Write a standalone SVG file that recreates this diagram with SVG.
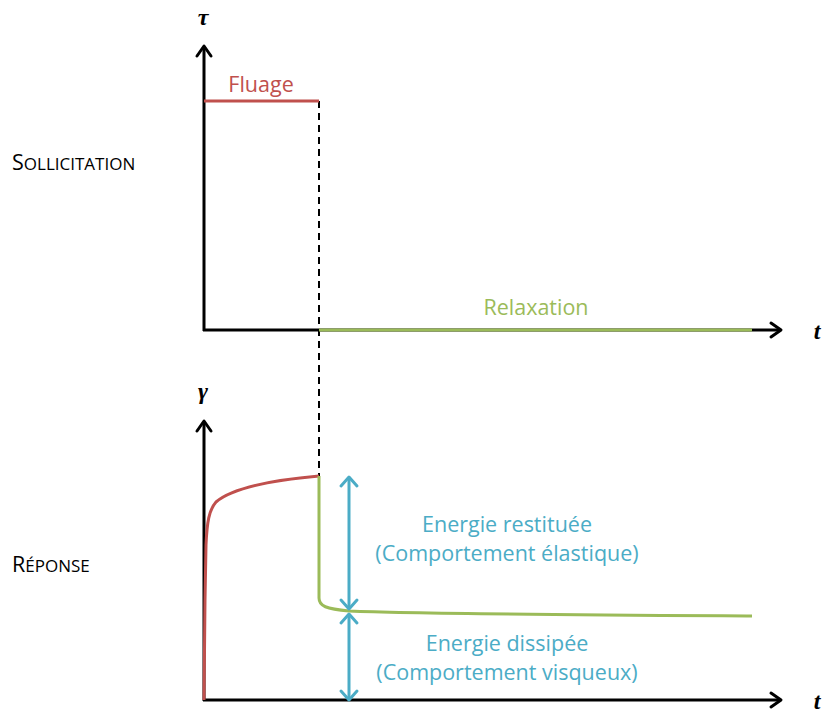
<svg xmlns="http://www.w3.org/2000/svg" width="823" height="713" viewBox="0 0 823 713">
<defs>
<style>
.ax{stroke:#000;stroke-width:3;fill:none}
.ah{stroke:#000;stroke-width:3;fill:none;stroke-linecap:round;stroke-linejoin:round}
.red{stroke:#C0504D;stroke-width:3;fill:none}
.grn{stroke:#9BBB59;stroke-width:3;fill:none}
.blu{stroke:#4BACC6;stroke-width:3;fill:none}
.bh{stroke:#4BACC6;stroke-width:3;fill:none;stroke-linecap:round;stroke-linejoin:round}
.lbl{font-family:"Open Sans","Liberation Sans",Arial,sans-serif;font-size:21.5px;text-anchor:middle}
.sym{font-family:"Liberation Serif","DejaVu Serif",serif;font-style:italic;font-weight:bold;font-size:24px;text-anchor:middle}
.sc{font-family:"Open Sans","Liberation Sans",Arial,sans-serif;fill:#000}
</style>
</defs>
<g id="labels-left">
<text class="sc" x="12" y="170"><tspan font-size="21.5">S</tspan><tspan font-size="17">OLLICITATION</tspan></text>
<text class="sc" x="12" y="572"><tspan font-size="21.5">R</tspan><tspan font-size="17">ÉPONSE</tspan></text>
</g>
<g id="axes-top">
<line class="ax" x1="204" y1="331" x2="204" y2="47"/>
<polyline class="ah" points="197,56 204,46 211,56"/>
<line class="ax" x1="203" y1="330" x2="780" y2="330"/>
<polyline class="ah" points="771,323 781,330 771,337"/>
<text class="sym" x="203" y="25">τ</text>
<text class="sym" x="817" y="339">t</text>
</g>
<g id="axes-bottom">
<line class="ax" x1="204" y1="701" x2="204" y2="422"/>
<polyline class="ah" points="197,431 204,421 211,431"/>
<line class="ax" x1="203" y1="700" x2="780" y2="700"/>
<polyline class="ah" points="771,693 781,700 771,707"/>
<text class="sym" x="203" y="399">γ</text>
<text class="sym" x="817" y="709">t</text>
</g>
<g id="connectors">
<line x1="319" y1="101" x2="319" y2="476" stroke="#000" stroke-width="2" stroke-dasharray="7,5"/>
</g>
<g id="fluage">
<line class="red" x1="204" y1="101" x2="319" y2="101"/>
<text class="lbl" x="261" y="92" fill="#C0504D">Fluage</text>
</g>
<g id="relaxation">
<line class="grn" x1="319" y1="330" x2="752" y2="330"/>
<text class="lbl" x="536" y="315" fill="#9BBB59">Relaxation</text>
</g>
<g id="reponse-curve">
<path class="red" d="M204,700 L205,600 L206,545 C207,522 209,510 216,502 C230,490 262,481 319,476"/>
<path class="grn" d="M319,476 L319,598 C319,606 326,609 349,611 C420,614 600,615 752,616"/>
</g>
<g id="energie-restituee">
<line class="blu" x1="349" y1="479" x2="349" y2="607"/>
<polyline class="bh" points="341,486 349,477 357,486"/>
<polyline class="bh" points="341,600 349,609 357,600"/>
<text class="lbl" x="507" y="532" fill="#4BACC6">Energie restituée</text>
<text class="lbl" x="507" y="561" fill="#4BACC6">(Comportement élastique)</text>
</g>
<g id="energie-dissipee">
<line class="blu" x1="349" y1="616" x2="349" y2="698"/>
<polyline class="bh" points="341,623 349,614 357,623"/>
<polyline class="bh" points="341,691 349,700 357,691"/>
<text class="lbl" x="507" y="651" fill="#4BACC6">Energie dissipée</text>
<text class="lbl" x="507" y="680" fill="#4BACC6">(Comportement visqueux)</text>
</g>
</svg>
